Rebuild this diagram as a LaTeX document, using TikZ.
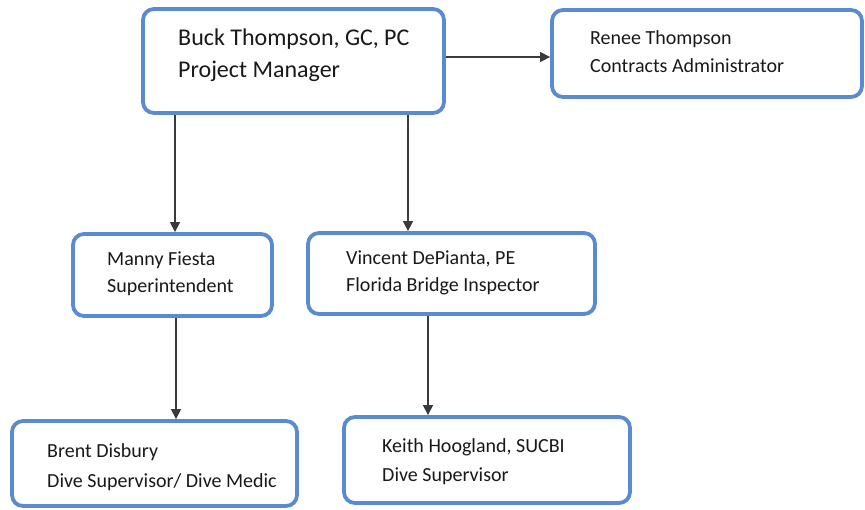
\documentclass[tikz,border=0pt]{standalone}
\usepackage{fontspec}
\setmainfont{Carlito}
\usetikzlibrary{arrows.meta}
\definecolor{boxblue}{HTML}{5A8AD0}
\definecolor{arrgray}{HTML}{3A3A3A}
\tikzset{
  orgbox/.style={draw=boxblue, line width=3.8pt, rounded corners=11pt, fill=white, inner sep=0pt},
  orgtext/.style={anchor=west, align=left, inner sep=0pt, text=black!90},
  orgarrow/.style={draw=arrgray, line width=1.3pt, -{Triangle[length=10pt,width=10pt]}}
}
\begin{document}
\begin{tikzpicture}[x=1pt,y=-1pt]
\useasboundingbox (0,0) rectangle (865,509);
% boxes
\node[orgbox, minimum width=301pt, minimum height=104pt] (buck) at (293.5,61) {};
\node[orgbox, minimum width=310pt, minimum height=87pt] (renee) at (707,53.5) {};
\node[orgbox, minimum width=199pt, minimum height=82pt] (manny) at (172.5,275) {};
\node[orgbox, minimum width=287pt, minimum height=81pt] (vincent) at (451.5,273.5) {};
\node[orgbox, minimum width=285pt, minimum height=85pt] (brent) at (154.5,463.5) {};
\node[orgbox, minimum width=286pt, minimum height=86pt] (keith) at (487,460) {};
% texts
\node[orgtext, font=\fontsize{24}{32}\selectfont] (tbuck) at (178,55.5) {Buck Thompson, GC, PC\\Project Manager};
\node[orgtext, font=\fontsize{20}{28}\selectfont] (trenee) at (590,52) {Renee Thompson\\Contracts Administrator};
\node[orgtext, font=\fontsize{20}{27}\selectfont] (tmanny) at (107,274) {Manny Fiesta\\Superintendent};
\node[orgtext, font=\fontsize{20}{27}\selectfont] (tvincent) at (346,273) {Vincent DePianta, PE\\Florida Bridge Inspector};
\node[orgtext, font=\fontsize{20}{30}\selectfont] (tbrent) at (47,467) {Brent Disbury\\Dive Supervisor/ Dive Medic};
\node[orgtext, font=\fontsize{20}{29}\selectfont] (tkeith) at (382,461.5) {Keith Hoogland, SUCBI\\Dive Supervisor};
% connectors
\draw[orgarrow] (buck.east |- 0,57) -- (renee.west |- 0,57);
\draw[orgarrow] (buck.south -| 175,0) -- (manny.north -| 175,0);
\draw[orgarrow] (buck.south -| 408,0) -- (vincent.north -| 408,0);
\draw[orgarrow] (manny.south -| 176,0) -- (brent.north -| 176,0);
\draw[orgarrow] (vincent.south -| 428,0) -- (keith.north -| 428,0);
\end{tikzpicture}
\end{document}
